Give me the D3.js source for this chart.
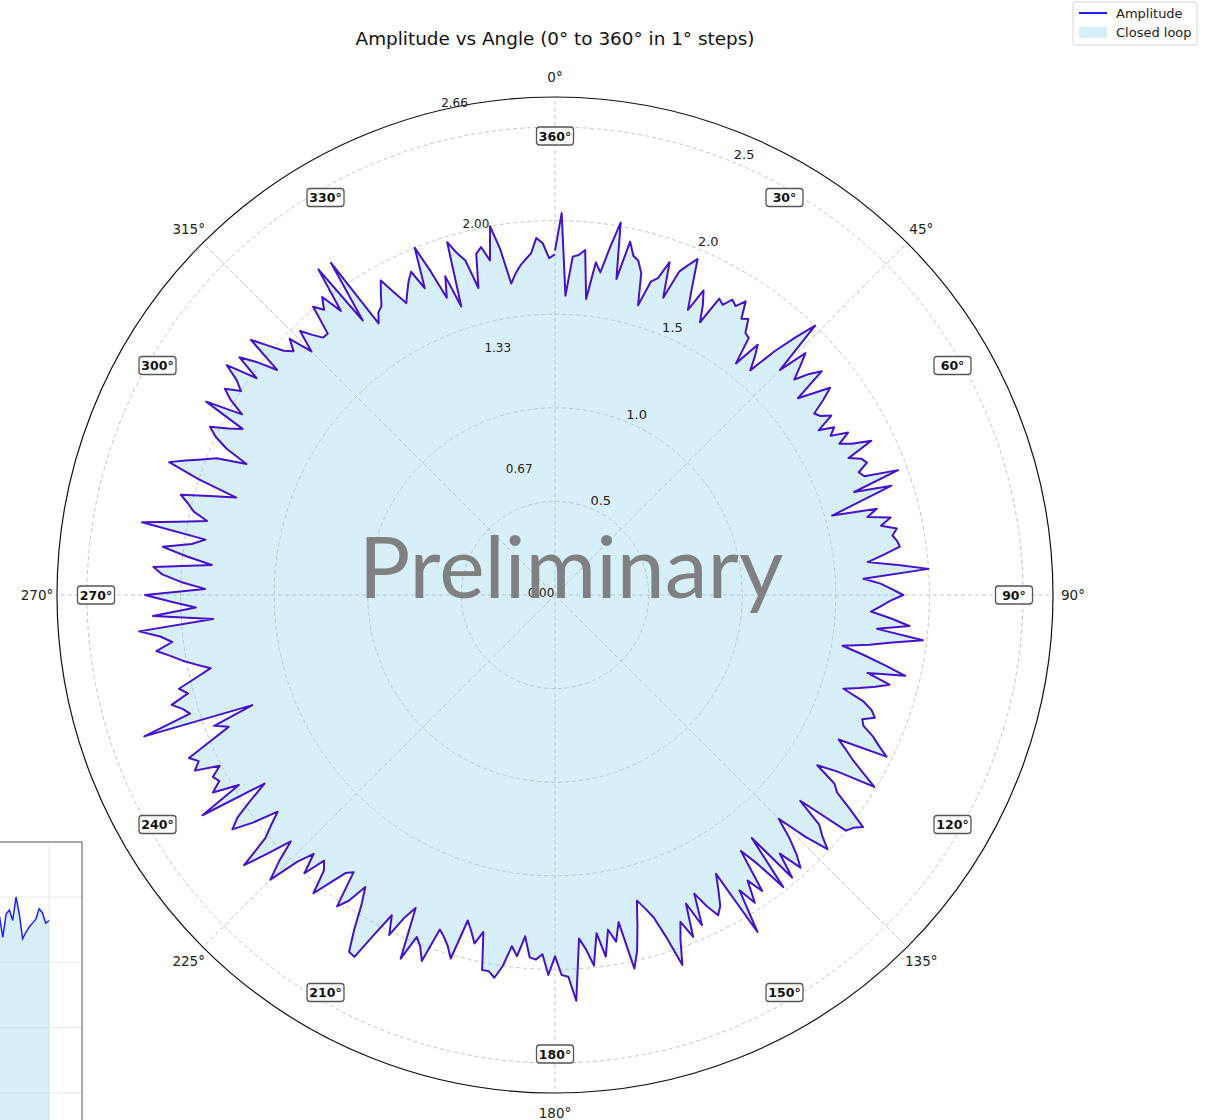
<!DOCTYPE html>
<html><head><meta charset="utf-8">
<script src="https://cdn.jsdelivr.net/npm/d3@7"></script>
<style>body{margin:0;background:#fff}svg{display:block;font-family:"DejaVu Sans",sans-serif}</style>
</head><body><svg id="c" width="1212" height="1120"></svg>
<script>
// Amplitude per degree, 0..360
const amplitude = [
1.84,2.04,1.60,1.81,1.82,1.85,1.59,1.79,1.74,1.88, 2.02,1.72,1.93,1.86,1.84,1.78,1.61,1.75,1.78,1.88,
1.69,1.85,1.90,1.95,1.80,1.68,1.81,1.74,1.65,1.81, 1.79,1.84,1.82,1.87,1.78,1.80,1.73,1.72,1.57,1.72,
1.66,1.59,1.75,1.88,2.00,1.70,1.86,1.79,1.72,1.80, 1.86,1.67,1.75,1.84,1.77,1.69,1.71,1.76,1.66,1.74,
1.70,1.79,1.72,1.78,1.88,1.73,1.79,1.81,1.75,1.77, 1.95,1.69,1.89,1.70,1.54,1.78,1.72,1.84,1.78,1.86,
1.83,1.85,1.86,1.77,1.68,1.84,2.00,1.65,1.74,1.80, 1.86,1.79,1.74,1.69,1.80,1.90,1.73,1.98,1.82,1.70,
1.56,1.68,1.80,1.92,1.72,1.85,1.78,1.70,1.62,1.74, 1.80,1.83,1.77,1.79,1.86,1.91,1.97,1.70,1.76,1.82,
1.90,1.99,1.78,1.67,1.80,1.84,1.95,2.06,2.02,2.00, 1.71,1.87,1.92,1.99,1.86,1.69,1.80,1.89,1.96,1.83,
1.97,1.67,1.98,1.80,1.69,1.93,1.84,1.96,1.86,2.10, 1.72,1.80,1.88,1.92,1.85,1.76,1.93,1.79,1.97,1.87,
1.96,2.09,1.92,1.80,1.74,1.69,1.82,1.95,2.04,1.78, 1.88,1.81,1.95,1.82,1.99,1.90,1.84,2.17,2.04,2.03,
1.93,2.03,1.92,1.95,1.94,1.83,1.94,1.89,2.00,2.07, 2.04,2.04,1.84,1.91,1.85,1.80,2.02,1.96,1.92,1.89,
2.08,2.01,1.97,2.11,1.83,1.90,2.02,1.92,2.05,2.21, 2.20,2.08,1.95,1.86,1.97,2.03,1.83,1.86,1.95,2.05,
1.92,1.88,2.00,1.89,1.98,2.15,2.05,1.93,2.06,2.20, 2.02,1.95,1.88,2.02,2.13,2.07,1.96,1.85,2.22,1.97,
2.11,2.05,2.07,2.01,2.14,2.10,2.14,2.00,1.88,1.95, 1.72,2.32,2.05,2.08,2.13,2.03,2.07,1.97,1.88,1.95,
2.02,2.08,2.15,2.06,2.12,2.23,1.83,2.15,1.92,2.05, 2.19,1.87,2.00,2.10,2.15,1.84,1.98,2.11,1.96,1.89,
2.24,2.05,1.90,1.98,2.02,2.07,1.92,1.78,2.00,2.18, 2.10,2.02,1.95,1.79,1.92,2.00,2.05,1.96,1.89,2.13,
1.93,2.02,2.08,2.00,2.05,2.14,1.97,2.11,2.02,1.91, 2.12,2.03,1.95,1.91,1.97,1.84,1.96,1.90,1.85,1.85,
2.01,1.96,2.02,1.90,2.15,1.79,2.14,1.73,1.78,1.80, 1.86,1.92,1.83,1.75,1.80,1.85,1.89,1.78,2.00,1.85,
1.69,1.80,1.62,1.97,1.90,1.85,1.69,1.87,1.90,1.82, 2.00,1.87,1.68,1.73,1.77,1.80,1.83,1.91,1.88,1.80,
1.82];
const angles = amplitude.map((_, i) => i);
const radialTicks = [0.5, 1.0, 1.5, 2.0, 2.5];
const customRadialLabels = [0.00, 0.67, 1.33, 2.00, 2.66];
const outerAngleTicks = [0, 45, 90, 135, 180, 225, 270, 315];
const boxedAngleTicks = [360, 30, 60, 90, 120, 150, 180, 210, 240, 270, 300, 330];
const insetYTicks = [0.5, 1.0, 1.5, 2.0];
const insetXTicks = [0, 60, 120, 180, 240, 300, 360];
const rMax = 2.66;
const titleText = "Amplitude vs Angle (0° to 360° in 1° steps)";
const legendItems = ["Amplitude", "Closed loop"];

const svg = d3.select("#c");
const cx = 555, cy = 595, R = 498;
const r = d3.scaleLinear().domain([0, rMax]).range([0, R]);
const a = d3.scaleLinear().domain([0, 360]).range([0, 2 * Math.PI]);
const pt = (deg, rad) => [cx + rad * Math.sin(a(deg)), cy - rad * Math.cos(a(deg))];
const data = angles.map(i => ({ang: i, v: amplitude[i]}));

// ---- Inset (partially off-canvas) ----
const xI = d3.scaleLinear().domain([0, 360]).range([-1139, 49]);
const yI = d3.scaleLinear().domain([0.5, 2.0]).range([1093, 897]);
const inset = svg.append("g");
inset.append("clipPath").attr("id", "ic").append("rect")
  .attr("x", -1200).attr("y", 842).attr("width", 1282).attr("height", 400);
const ig = inset.append("g").attr("clip-path", "url(#ic)");
ig.append("rect").attr("x", -1200).attr("y", 842).attr("width", 1282).attr("height", 400).attr("fill", "#fff");
ig.selectAll(".hg").data(insetYTicks).join("line")
  .attr("x1", -1200).attr("x2", 82).attr("y1", d => yI(d)).attr("y2", d => yI(d))
  .attr("stroke", "#e8e8e8").attr("stroke-width", 1);
ig.selectAll(".vg").data(insetXTicks).join("line")
  .attr("x1", d => xI(d)).attr("x2", d => xI(d)).attr("y1", 842).attr("y2", 1242)
  .attr("stroke", "#e8e8e8").attr("stroke-width", 1);
ig.append("path").datum(data)
  .attr("d", d3.area().x(d => xI(d.ang)).y0(yI(0)).y1(d => yI(d.v)))
  .attr("fill", "rgba(135,206,235,0.33)");
ig.append("path").datum(data)
  .attr("d", d3.line().x(d => xI(d.ang)).y(d => yI(d.v)))
  .attr("fill", "none").attr("stroke", "#1f1fff").attr("stroke-width", 1.5);
inset.append("rect").attr("x", -1200).attr("y", 842).attr("width", 1282).attr("height", 400)
  .attr("fill", "none").attr("stroke", "#555").attr("stroke-width", 1);

// ---- Polar grid ----
const g = svg.append("g");
g.selectAll(".rg").data(radialTicks).join("circle")
  .attr("cx", cx).attr("cy", cy).attr("r", d => r(d))
  .attr("fill", "none").attr("stroke", "#c4c4c4").attr("stroke-width", 1).attr("stroke-dasharray", "4,3");
g.selectAll(".ag").data(outerAngleTicks).join("line")
  .attr("x1", cx).attr("y1", cy)
  .attr("x2", d => pt(d, R)[0]).attr("y2", d => pt(d, R)[1])
  .attr("stroke", "#c4c4c4").attr("stroke-width", 1).attr("stroke-dasharray", "4,3");

// ---- Data ----
const rad = d => a(d.ang);
g.append("path").datum(data)
  .attr("transform", `translate(${cx},${cy})`)
  .attr("d", d3.areaRadial().angle(rad).innerRadius(0).outerRadius(d => r(d.v)))
  .attr("fill", "rgba(135,206,235,0.33)");
g.append("path").datum(data)
  .attr("transform", `translate(${cx},${cy})`)
  .attr("d", d3.lineRadial().angle(rad).radius(d => r(d.v)))
  .attr("fill", "none").attr("stroke", "#4612c8").attr("stroke-width", 2).attr("stroke-linejoin", "round");

// outer circle
g.append("circle").attr("cx", cx).attr("cy", cy).attr("r", R)
  .attr("fill", "none").attr("stroke", "#111").attr("stroke-width", 1.2);

// radial tick labels (22.5°)
g.selectAll(".rl").data(radialTicks).join("text")
  .attr("x", d => pt(22.5, r(d))[0] + 10).attr("y", d => pt(22.5, r(d))[1] - 8)
  .attr("text-anchor", "middle").attr("dominant-baseline", "central")
  .attr("font-size", 13).attr("fill", "#222").text(d => d.toFixed(1));
// custom labels (-10°)
g.selectAll(".cl").data(customRadialLabels).join("text")
  .attr("x", d => pt(-10, r(d))[0] - 14).attr("y", d => pt(-10, r(d))[1] - 2)
  .attr("text-anchor", "middle").attr("dominant-baseline", "central")
  .attr("font-size", 12).attr("fill", "#222").text(d => d.toFixed(2));

// outer angle labels
g.selectAll(".ol").data(outerAngleTicks).join("text")
  .attr("x", d => pt(d, 518)[0]).attr("y", d => pt(d, 518)[1])
  .attr("text-anchor", "middle").attr("dominant-baseline", "central")
  .attr("font-size", 13.5).attr("fill", "#222").text(d => d + "°");

// boxed angle labels
const bl = g.selectAll(".bl").data(boxedAngleTicks).join("g")
  .attr("transform", d => `translate(${pt(d, 459)[0]},${pt(d, 459)[1]})`);
bl.append("rect").attr("x", -18.5).attr("y", -9).attr("width", 37).attr("height", 18)
  .attr("rx", 3).attr("fill", "#fff").attr("stroke", "#555").attr("stroke-width", 1.3);
bl.append("text").attr("text-anchor", "middle").attr("dominant-baseline", "central")
  .attr("font-size", 12.5).attr("font-weight", "bold").attr("fill", "#111").text(d => d + "°");

// watermark
svg.append("text").attr("x", 571).attr("y", 598).attr("text-anchor", "middle")
  .attr("font-family", "Lato, sans-serif").attr("font-size", 86)
  .attr("fill", "#808080").text("Preliminary");

// title
svg.append("text").attr("x", 555).attr("y", 45).attr("text-anchor", "middle")
  .attr("font-size", 18.4).attr("fill", "#111").text(titleText);

// legend
const lg = svg.append("g").attr("transform", "translate(1073,2)");
lg.append("rect").attr("width", 124).attr("height", 43).attr("rx", 3)
  .attr("fill", "#fff").attr("stroke", "#d6d6d6");
lg.append("line").attr("x1", 6).attr("x2", 34).attr("y1", 11).attr("y2", 11)
  .attr("stroke", "#1f1fff").attr("stroke-width", 2);
lg.append("rect").attr("x", 6).attr("y", 25).attr("width", 28).attr("height", 11)
  .attr("fill", "rgba(135,206,235,0.33)");
lg.selectAll(".lt").data(legendItems).join("text")
  .attr("x", 43).attr("y", (d, i) => 16 + i * 19)
  .attr("font-size", 13).attr("fill", "#222").text(d => d);
</script></body></html>
